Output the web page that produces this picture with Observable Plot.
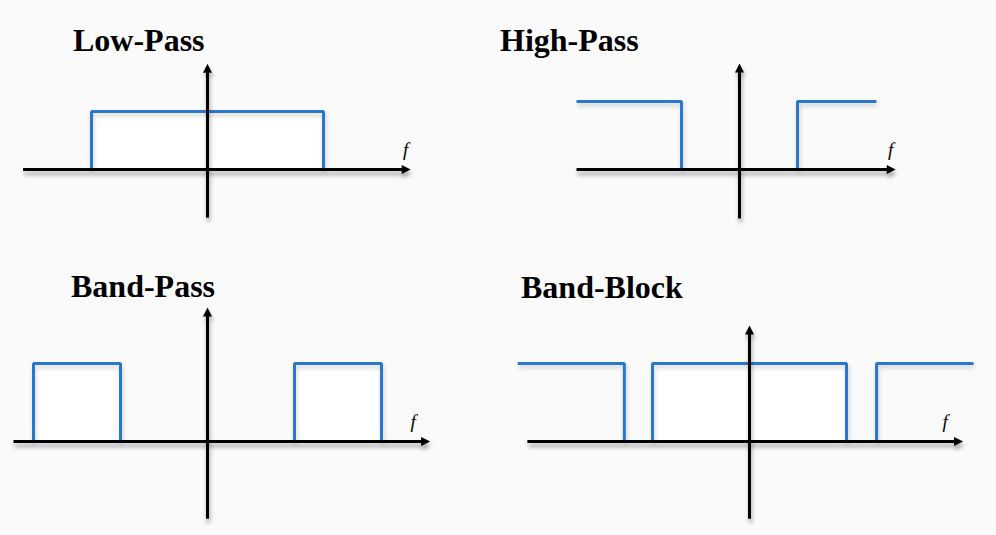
<!DOCTYPE html>
<html><head><meta charset="utf-8">
<script src="https://cdn.jsdelivr.net/npm/d3@7"></script>
<script src="https://cdn.jsdelivr.net/npm/@observablehq/plot@0.6"></script>
<style>
html,body{margin:0;padding:0;background:#fafafa;}
#chart{position:relative;width:996px;height:535px;overflow:hidden;background:#fafafa;}
.panel{position:absolute;width:498px;}
.panel svg{position:absolute;left:0;top:0;}
.title{position:absolute;font-family:"Liberation Serif","Times New Roman",serif;font-weight:bold;font-size:32px;line-height:32px;color:#000;white-space:nowrap;}
.flabel{font-family:"Liberation Serif","DejaVu Serif",serif !important;font-style:italic;}
</style></head><body><div id="chart"></div>
<script>
// ---------- data ----------
const titles = ["Low-Pass", "High-Pass", "Band-Pass", "Band-Block"];
const axisLabel = "f";

// filter responses (frequency in cutoff units, amplitude 0..1), segment ids
const lowPassF   = [-1, -1, 1, 1];
const lowPassA   = [0, 1, 1, 0];
const lowPassSeg = [0, 0, 0, 0];

const highPassF   = [-2.81, -1, -1, 1, 1, 2.36];
const highPassA   = [1, 1, 0, 0, 1, 1];
const highPassSeg = [0, 0, 0, 1, 1, 1];

const bandPassF   = [-2, -2, -1, -1, 1, 1, 2, 2];
const bandPassA   = [0, 1, 1, 0, 0, 1, 1, 0];
const bandPassSeg = [0, 0, 0, 0, 1, 1, 1, 1];

const bandBlockF   = [-2.39, -1.29, -1.29, -1, -1, 1, 1, 1.31, 1.31, 2.31];
const bandBlockA   = [1, 1, 0, 0, 1, 1, 0, 0, 1, 1];
const bandBlockSeg = [0, 0, 0, 1, 1, 1, 1, 2, 2, 2];

// closed (white-filled) pass bands: [start, end, amplitude]
const lowPassBands   = [[-1, 1, 1]];
const highPassBands  = [];
const bandPassBands  = [[-2, -1, 1], [1, 2, 1]];
const bandBlockBands = [[-1, 1, 1]];

// axis extents: frequency axis [min,max], amplitude axis [min,max]
const lowPassAxisF   = [-1.59, 1.70];  const lowPassAxisA   = [-0.83, 1.72];
const highPassAxisF  = [-2.81, 2.59];  const highPassAxisA  = [-0.72, 1.47];
const bandPassAxisF  = [-2.23, 2.49];  const bandPassAxisA  = [-0.99, 1.64];
const bandBlockAxisF = [-2.29, 2.14];  const bandBlockAxisA = [-0.99, 1.41];

// ---------- layout / style ----------
const BLUE = "#2a78cb";
const layout = [
  {left: 0,   top: 0,   h: 268, ox: 207, oy: 169, kx: 116, ky: 58, tl: 73, tt: 24, fdx: 1},
  {left: 498, top: 0,   h: 268, ox: 241, oy: 169, kx: 58,  ky: 68, tl: 2,  tt: 24, fdx: 1},
  {left: 0,   top: 268, h: 267, ox: 207, oy: 173, kx: 87,  ky: 78, tl: 71, tt: 2,  fdx: -11},
  {left: 498, top: 268, h: 267, ox: 251, oy: 173, kx: 97,  ky: 78, tl: 23, tt: 3,  fdx: -12}
];
const series = [
  {F: lowPassF, A: lowPassA, S: lowPassSeg, bands: lowPassBands, axF: lowPassAxisF, axA: lowPassAxisA},
  {F: highPassF, A: highPassA, S: highPassSeg, bands: highPassBands, axF: highPassAxisF, axA: highPassAxisA},
  {F: bandPassF, A: bandPassA, S: bandPassSeg, bands: bandPassBands, axF: bandPassAxisF, axA: bandPassAxisA},
  {F: bandBlockF, A: bandBlockA, S: bandBlockSeg, bands: bandBlockBands, axF: bandBlockAxisF, axA: bandBlockAxisA}
];

function arrowHead(color) {
  const m = d3.create("svg:marker")
    .attr("viewBox", "-9 -4.5 9 9")
    .attr("markerUnits", "userSpaceOnUse")
    .attr("markerWidth", 9).attr("markerHeight", 9)
    .attr("refX", -6).attr("refY", 0)
    .attr("orient", "auto")
    .attr("overflow", "visible");
  m.append("path").attr("d", "M-9,-4.5L0,0L-9,4.5Z").attr("fill", color).attr("stroke", "none");
  return m.node();
}

const chart = document.getElementById("chart");
titles.forEach((title, k) => {
  const L = layout[k], s = series[k];
  const W = 498;
  const panel = document.createElement("div");
  panel.className = "panel";
  panel.style.left = L.left + "px";
  panel.style.top = L.top + "px";
  panel.style.height = L.h + "px";

  const idx = s.F.map((_, i) => i);
  const svg = Plot.plot({
    width: W, height: L.h, margin: 0,
    style: {background: "transparent", overflow: "visible"},
    x: {domain: [(0 - L.ox) / L.kx, (W - L.ox) / L.kx], axis: null},
    y: {domain: [(L.oy - L.h) / L.ky, L.oy / L.ky], axis: null},
    marks: [
      Plot.rect(s.bands, {x1: d => d[0], x2: d => d[1], y1: () => 0, y2: d => d[2], fill: "white"}),
      Plot.line(idx, {x: i => s.F[i], y: i => s.A[i], z: i => s.S[i], stroke: BLUE, strokeWidth: 3,
        strokeLinejoin: "miter", strokeLinecap: "butt"}),
      Plot.link([0], {x1: () => s.axF[0], x2: () => s.axF[1], y1: () => 0, y2: () => 0,
        stroke: "#000", strokeWidth: 3, markerEnd: arrowHead}),
      Plot.link([0], {x1: () => 0, x2: () => 0, y1: () => s.axA[0], y2: () => s.axA[1],
        stroke: "#000", strokeWidth: 3, markerEnd: arrowHead}),
      Plot.text([axisLabel], {x: () => s.axF[1], y: () => 0, text: d => d, dx: L.fdx, dy: -20,
        fontFamily: "Liberation Serif", fontStyle: "italic", fontSize: 19, fill: "#000", className: "flabel"})
    ]
  });
  svg.querySelectorAll('g[aria-label="text"]').forEach(g => {
    g.style.fontFamily = '"Liberation Serif", "DejaVu Serif", serif';
    g.style.fontStyle = "italic";
  });
  svg.querySelectorAll('g[aria-label="link"]').forEach(g => g.style.filter = "drop-shadow(1px 4px 2px rgba(0,0,0,0.35))");
  svg.querySelectorAll('g[aria-label="line"]').forEach(g => g.style.filter = "drop-shadow(1px 3px 2px rgba(0,0,0,0.18))");
  panel.appendChild(svg);

  const t = document.createElement("div");
  t.className = "title";
  t.textContent = title;
  t.style.left = L.tl + "px";
  t.style.top = L.tt + "px";
  panel.appendChild(t);
  chart.appendChild(panel);
});
</script>
</body></html>
